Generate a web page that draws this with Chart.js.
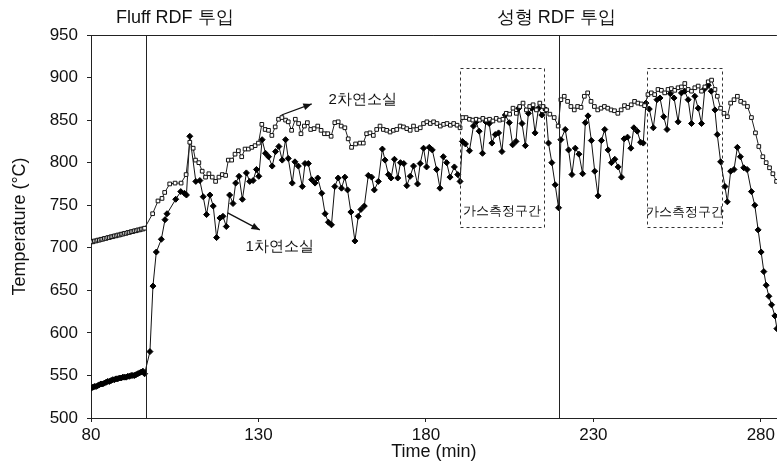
<!DOCTYPE html>
<html>
<head>
<meta charset="utf-8">
<script src="https://cdn.jsdelivr.net/npm/chart.js@4/dist/chart.umd.min.js"></script>
<style>
html,body{margin:0;padding:0;background:#fff;}
#wrap{width:778px;height:468px;}
</style>
</head>
<body>
<div id="wrap"><canvas id="c" width="778" height="468"></canvas></div>
<script>
// ---- Data ----
const xTicks = [80, 130, 180, 230, 280];
const yTicks = [500, 550, 600, 650, 700, 750, 800, 850, 900, 950];

// 1차연소실 (primary chamber) : time (min), temperature (°C)
const t1 = [80,80.5,81,81.5,82,82.5,83,83.5,84,84.5,85,85.5,86,86.5,87,87.5,88,88.5,89,89.5,90,90.5,91,91.5,92,92.5,93,93.5,94,94.5,95,95.5,96,
 97.6,98.5,99.5,101,102.1,102.7,105.3,106.8,107.9,108.5,109.5,111.3,112.5,113.5,114.5,115.5,116.5,117.5,118.5,119.4,120.4,121.4,122.4,123.2,124.2,125.2,126.4,127.4,128.4,129.4,130.1,131.1,132.1,133,134.1,135.1,136.1,137.1,138.1,138.9,140.1,140.9,141.9,143.1,143.9,144.9,145.9,146.9,147.7,148.9,149.9,150.9,151.8,152.8,153.8,154.8,155.8,156.6,157.6,158.8,159.8,160.6,161.6,162.8,163.8,164.6,165.8,167,167.8,168.8,169.6,170.6,171.6,172.4,173.4,174.3,175.3,176.3,177.5,178.3,179.3,180.2,181,181.9,183.2,184.2,185.2,186.2,187.2,188.5,189.5,190.2,
 190.9,191.8,193,194.2,195,195.9,196.9,197.9,198.9,199.7,200.7,201.7,202.7,203.7,204.9,205.9,206.9,207.7,208.7,209.7,210.6,211.7,212.6,213.6,214.6,215.8,216.6,217.6,218.6,219.6,
 220.3,221.6,222.6,223.6,224.6,225.7,226.8,227.6,228.4,229.4,230.4,231.4,232.4,233.4,234.4,235.4,236.4,237.4,238.4,239.2,240.2,241.2,242.1,243.1,244.1,244.9,245.7,246.7,247.9,249,249.9,251,252,253,254.1,255.3,256.3,257.3,258.3,259.3,260.3,261.3,262.3,263.3,264.3,265.2,266.3,267,268,269.3,270,271,272,273,273.9,274.9,275.9,277.2,278.2,279.2,280.1,280.9,281.6,282.4,283.2,284.2,284.8];
const v1 = [535,536,537,537,538,539,540,540,541,542,543,543,544,545,545,546,546,547,547,548,548,548,549,549,550,550,550,551,552,553,554,555,552,
 578,655,695,710,733,740,757,766,764,762,831,778,779,760,739,762,749,712,735,737,725,762,752,776,784,757,788,778,779,792,784,827,811,807,796,813,819,803,827,805,776,801,796,772,799,799,780,776,782,764,740,730,727,772,782,770,783,768,742,708,737,745,749,785,783,768,778,816,803,786,782,804,782,800,799,773,784,796,775,799,817,795,818,815,792,770,807,800,783,795,786,778,
 825,822,814,843,848,837,811,848,846,823,833,835,813,856,847,821,825,864,846,820,858,864,835,864,856,862,823,800,774,747,
 827,839,815,786,817,810,787,847,855,826,790,761,826,839,815,800,804,795,783,828,830,817,841,837,824,823,870,863,841,874,876,854,839,881,876,848,882,884,874,846,878,864,846,887,891,884,862,833,801,772,754,790,792,818,807,794,792,766,750,721,695,672,656,643,633,620,605];

// 2차연소실 (secondary chamber) : time (min), temperature (°C)
const t2 = [80,80.5,81,81.5,82,82.5,83,83.5,84,84.5,85,85.5,86,86.5,87,87.5,88,88.5,89,89.5,90,90.5,91,91.5,92,92.5,93,93.5,94,94.5,95,95.5,96,
 98.4,100,101.2,102,103.5,105.1,106.9,108.4,109.5,110.5,111.2,112.2,113.2,114.2,115.2,116.2,117.2,118.2,119.2,120.2,121,122,123,124,125,126,127,128,129,130,131,132,133,134,135,136,137,138.1,138.9,139.9,141,142,142.7,143.7,144.6,145.6,146.6,147.7,148.7,149.7,150.7,151.7,152.8,153.8,154.7,155.8,156.8,157.8,159,160.3,161.3,162.3,163.3,164.3,165.3,166.3,167.3,168.3,169.3,170.3,171.3,172.3,173.3,174.3,175.3,176.3,177.3,178.3,179.3,180.3,181.3,182.3,183.3,184.3,185.3,186.3,187.3,188.3,189.3,190.2,
 191,192,193,194,195,196,197,198,199,200,201,202,203,204,205,206,207,208,209,210,211,212,213,214,215,216,217,218.3,219.5,
 220.3,221.3,222.3,223.3,224.3,225.3,226.3,227.3,228.3,229.3,230.3,231.3,232.3,233.3,234.3,235.3,236.3,237.3,238.3,239.3,240.3,241.3,242.3,243.3,244.3,245.3,246.3,247.3,248.3,249.3,250.3,251.3,252.3,253.3,254.3,255.3,256.3,257.3,258.3,259.3,260.3,261.3,262.3,263.3,264.3,265.3,266.3,267,268,269,270,271,272,273,274,275,276,277.2,278.4,279.4,280.6,281.6,282.6,283.6,284.7];
const v2 = [707,707,708,708,709,709,710,710,711,711,712,712,713,713,714,714,715,715,716,716,717,717,718,718,719,719,720,720,721,721,722,722,723,
 740,755,758,765,775,776,776,786,824,817,803,800,790,783,787,783,778,783,786,785,803,803,810,814,807,816,816,818,820,823,845,839,838,832,842,851,853,850,848,838,851,846,834,843,847,839,840,843,838,834,834,831,847,848,843,841,828,818,822,823,823,834,835,832,839,843,839,838,836,838,839,843,842,840,838,843,839,841,846,848,846,848,846,843,845,846,844,846,844,841,
 853,853,851,850,851,850,852,850,851,849,852,850,851,858,857,864,858,866,870,862,866,868,862,870,866,862,857,853,843,
 874,878,872,866,862,866,865,878,882,872,866,862,864,866,864,862,861,858,862,867,865,868,872,870,869,867,880,882,880,886,885,882,886,887,885,888,889,893,886,884,888,890,884,889,895,897,886,878,864,858,854,870,874,878,872,870,866,853,835,819,807,800,794,787,778];

// Annotation anchors (data coordinates)
const eventTimes = [96.4, 219.6];               // vertical event lines
const eventLabels = ['Fluff RDF 투입', '성형 RDF 투입'];
const eventLabelX = [105, 218.9];
const gasBoxes = [[190.1, 215.2, 725, 911], [246.1, 268.4, 724, 911]]; // tMin,tMax,vMin,vMax
const gasLabel = '가스측정구간';
const seriesNames = ['1차연소실', '2차연소실'];
const seriesLabelPos = [[136.3, 701], [161.1, 874]];
const arrows = [[120.8, 741, 130.4, 721], [136.9, 856, 145.9, 869]];

const FONT = '"Liberation Sans", Arial, sans-serif';

const annot = {
  id: 'annot',
  afterDatasetsDraw(chart) {
    const ctx = chart.ctx, xs = chart.scales.x, ys = chart.scales.y, ca = chart.chartArea;
    ctx.save();
    // top frame line
    ctx.strokeStyle = '#222'; ctx.lineWidth = 1;
    ctx.beginPath(); ctx.moveTo(ca.left, Math.round(ca.top) + 0.5); ctx.lineTo(ca.right, Math.round(ca.top) + 0.5); ctx.stroke();
    // event lines
    eventTimes.forEach((t) => {
      const px = Math.round(xs.getPixelForValue(t)) + 0.5;
      ctx.beginPath(); ctx.moveTo(px, ca.top); ctx.lineTo(px, ca.bottom); ctx.stroke();
    });
    // dashed boxes
    ctx.setLineDash([3, 3]); ctx.strokeStyle = '#333';
    gasBoxes.forEach((b) => {
      const x0 = Math.round(xs.getPixelForValue(b[0])) + 0.5, x1 = Math.round(xs.getPixelForValue(b[1])) + 0.5;
      const y0 = Math.round(ys.getPixelForValue(b[3])) + 0.5, y1 = Math.round(ys.getPixelForValue(b[2])) + 0.5;
      ctx.strokeRect(x0, y0, x1 - x0, y1 - y0);
    });
    ctx.setLineDash([]);
    // texts
    ctx.fillStyle = '#111'; ctx.textAlign = 'center'; ctx.textBaseline = 'middle';
    ctx.font = '18px ' + FONT;
    eventLabels.forEach((s, i) => ctx.fillText(s, xs.getPixelForValue(eventLabelX[i]), ca.top - 17));
    ctx.font = '13px ' + FONT;
    gasBoxes.forEach((b) => {
      ctx.fillText(gasLabel, (xs.getPixelForValue(b[0]) + xs.getPixelForValue(b[1])) / 2, ys.getPixelForValue(b[2]) - 15);
    });
    ctx.font = '15px ' + FONT;
    seriesNames.forEach((s, i) => ctx.fillText(s, xs.getPixelForValue(seriesLabelPos[i][0]), ys.getPixelForValue(seriesLabelPos[i][1])));
    // arrows
    ctx.strokeStyle = '#111'; ctx.lineWidth = 1.3;
    arrows.forEach((a) => {
      const x0 = xs.getPixelForValue(a[0]), y0 = ys.getPixelForValue(a[1]);
      const x1 = xs.getPixelForValue(a[2]), y1 = ys.getPixelForValue(a[3]);
      ctx.beginPath(); ctx.moveTo(x0, y0); ctx.lineTo(x1, y1); ctx.stroke();
      const ang = Math.atan2(y1 - y0, x1 - x0), L = 9, W = 0.4;
      ctx.beginPath(); ctx.moveTo(x1, y1);
      ctx.lineTo(x1 - L * Math.cos(ang - W), y1 - L * Math.sin(ang - W));
      ctx.lineTo(x1 - L * Math.cos(ang + W), y1 - L * Math.sin(ang + W));
      ctx.closePath(); ctx.fill();
    });
    ctx.restore();
  }
};

const data1 = t1.map((t, i) => ({ x: t, y: v1[i] }));
const data2 = t2.map((t, i) => ({ x: t, y: v2[i] }));

new Chart(document.getElementById('c'), {
  type: 'scatter',
  data: {
    datasets: [
      { label: seriesNames[1], data: data2, showLine: true, borderColor: '#222', borderWidth: 1,
        pointStyle: 'rect', pointRadius: 2.6, pointBackgroundColor: '#fff', pointBorderColor: '#111', pointBorderWidth: 1 },
      { label: seriesNames[0], data: data1, showLine: true, borderColor: '#111', borderWidth: 1,
        pointStyle: 'rectRot', pointRadius: 3, pointBackgroundColor: '#000', pointBorderColor: '#000', pointBorderWidth: 1 }
    ]
  },
  options: {
    responsive: false, animation: false,
    layout: { autoPadding: false, padding: { top: 35, right: 0, left: 0, bottom: 0 } },
    plugins: { legend: { display: false }, tooltip: { enabled: false } },
    scales: {
      x: {
        type: 'linear', min: 80, max: 284.8,
        afterBuildTicks: (s) => { s.ticks = xTicks.map((v) => ({ value: v })); },
        afterFit: (s) => { s.height = 50; },
        ticks: { color: '#111', font: { family: FONT, size: 17 }, padding: 3, maxRotation: 0 },
        grid: { display: true, drawOnChartArea: false, drawTicks: true, tickLength: 4, color: '#222' },
        border: { display: true, color: '#222', width: 1 },
        title: { display: true, text: 'Time (min)', color: '#111', font: { family: FONT, size: 18 }, padding: { top: 0, bottom: 5 } }
      },
      y: {
        type: 'linear', min: 500, max: 950,
        afterBuildTicks: (s) => { s.ticks = yTicks.map((v) => ({ value: v })); },
        afterFit: (s) => { s.width = 91; },
        ticks: { color: '#111', font: { family: FONT, size: 17 }, padding: 9 },
        grid: { display: true, drawOnChartArea: false, drawTicks: true, tickLength: 4, color: '#222' },
        border: { display: true, color: '#222', width: 1 },
        title: { display: true, text: 'Temperature (°C)', color: '#111', font: { family: FONT, size: 18 }, padding: { top: 9, bottom: 0 } }
      }
    }
  },
  plugins: [annot]
});
</script>
</body>
</html>
